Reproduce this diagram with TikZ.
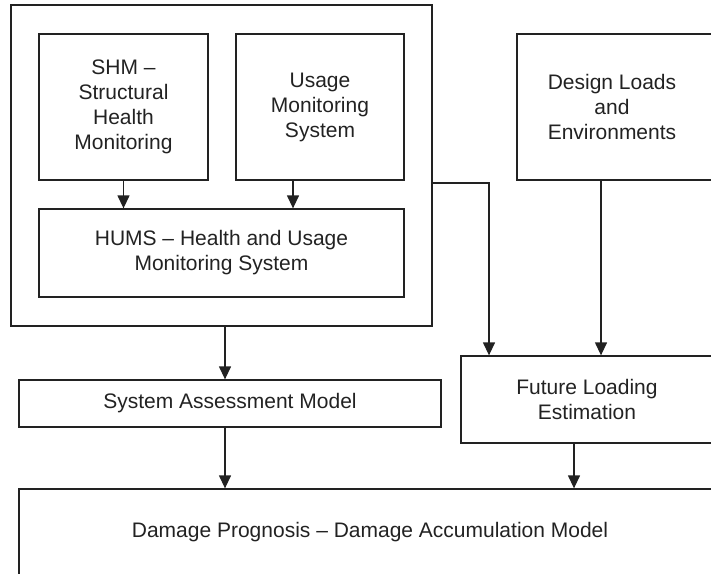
\documentclass[tikz,border=0pt]{standalone}
\usepackage{fontspec}
\setmainfont{Liberation Sans}
\usetikzlibrary{arrows.meta}
\definecolor{ink}{HTML}{222222}
\newcommand\boxfont{\fontsize{21}{25}\selectfont}
\begin{document}
\begin{tikzpicture}[x=1pt,y=-1pt,
  box/.style={draw=ink, line width=1.3pt, inner sep=0pt, align=center,
              text=ink, font=\boxfont},
  arr/.style={draw=ink, line width=1.3pt,
              -{Triangle[width=12pt,length=13pt]}}]
\useasboundingbox (0,0) rectangle (711,573);
\clip (0,0) rectangle (711,573);

% monitoring group
\node[box, minimum width=421pt, minimum height=321pt] (group) at (221.5,165.5) {};
\node[box, minimum width=169pt, minimum height=146pt] (shm) at (123.5,107)
  {SHM –\\Structural\\Health\\Monitoring};
\node[box, minimum width=168pt, minimum height=146pt] (usage) at (320,107)
  {Usage\\Monitoring\\System};
\node[box, minimum width=365pt, minimum height=88pt] (hums) at (221.5,253)
  {HUMS – Health and Usage\\Monitoring System};

% loads and models
\node[box, minimum width=199pt, minimum height=146pt] (design) at (616.5,107)
  {};
\node[text=ink, font=\boxfont, align=center] (designtxt) at (612,107)
  {Design Loads\\and\\Environments};
\node[box, minimum width=255pt, minimum height=87pt] (fle) at (588.5,399.5)
  {};
\node[text=ink, font=\boxfont, align=center] (fletxt) at (587,399.5)
  {Future Loading\\Estimation};
\node[box, minimum width=422pt, minimum height=47pt] (sam) at (230,403.5)
  {System Assessment Model};
\node[box, minimum width=697pt, minimum height=92pt] (dmg) at (367.5,535)
  {};
\node[text=ink, font=\boxfont] (dmgtxt) at (370,532)
  {Damage Prognosis – Damage Accumulation Model};

% connectors
\coordinate (uc) at (293,0);
\coordinate (gc) at (225,0);
\coordinate (bend) at (489,183);
\coordinate (dc) at (601,0);
\coordinate (fc) at (574,0);
\draw[arr] (shm.south) -- (hums.north -| shm.south);
\draw[arr] (usage.south -| uc) -- (hums.north -| uc);
\draw[arr] (group.east |- bend) -- (bend) -- (fle.north -| bend);
\draw[arr] (design.south -| dc) -- (fle.north -| dc);
\draw[arr] (group.south -| gc) -- (sam.north -| gc);
\draw[arr] (sam.south -| gc) -- (dmg.north -| gc);
\draw[arr] (fle.south -| fc) -- (dmg.north -| fc);
\end{tikzpicture}
\end{document}
